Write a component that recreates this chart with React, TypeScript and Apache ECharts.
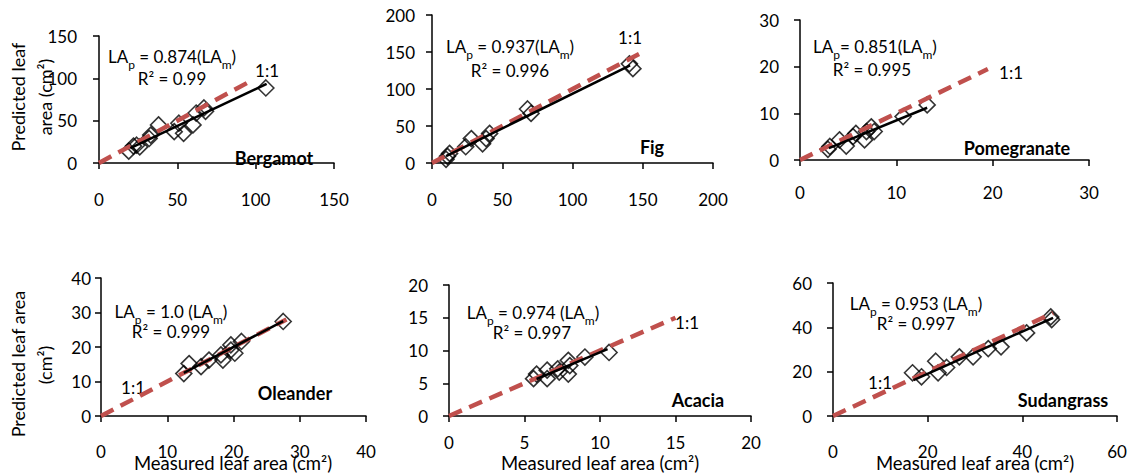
import React, { useEffect, useRef } from "react";
import * as echarts from "echarts";

const FONT = "Lato";

// Measured (x) vs predicted (y) leaf area
const bergamot: [number, number][] = [
  [19, 14], [22, 20], [24, 21], [26, 19], [32, 29], [33, 33], [38, 45], [48, 37],
  [51, 47], [54, 35], [60, 45], [62, 59], [67, 65], [68, 61], [106.5, 88.6],
];
const fig: [number, number][] = [
  [10, 5], [11, 9], [12.5, 13], [24, 22], [28, 33], [36, 26], [38.5, 33], [41, 40],
  [68, 73], [70.5, 67], [140.5, 134], [143, 127.5],
];
const pomegranate: [number, number][] = [
  [2.9, 2.3], [3.1, 2.9], [4.1, 4.3], [4.8, 3], [5.5, 5], [5.8, 5.7], [6.7, 4.3],
  [6.9, 6.1], [7.4, 7.1], [7.7, 6.1], [10.7, 9.3], [13.2, 11.8],
];
const oleander: [number, number][] = [
  [12.5, 12.3], [13.3, 15.2], [15.1, 14.3], [16.3, 16.2], [18.1, 17.7], [18.4, 16.2],
  [19.6, 19.1], [19.6, 20.6], [20.2, 18.2], [21.2, 21.6], [27.5, 27.4],
];
const acacia: [number, number][] = [
  [5.6, 5.7], [5.8, 6.4], [6.5, 7], [6.5, 5.7], [7.2, 7.2], [7.3, 6.7], [7.9, 8.5],
  [7.9, 6.4], [8.0, 7.7], [9.0, 9.0], [10.6, 9.7],
];
const sudangrass: [number, number][] = [
  [16.8, 19.5], [18.7, 17.7], [21.7, 24.7], [22.2, 19.5], [24, 21.9], [26.7, 26.7],
  [29.6, 26.7], [32.8, 30.4], [35.5, 31.2], [40.9, 37.5], [46, 44.7], [46.2, 43.5],
];

// Fitted trend lines (end points)
const bergamotTrend: [number, number][] = [[20, 17.5], [107, 93.5]];
const figTrend: [number, number][] = [[10, 9.4], [141, 132]];
const pomegranateTrend: [number, number][] = [[3, 2.55], [13.2, 11.2]];
const oleanderTrend: [number, number][] = [[12.5, 12.5], [27.5, 27.5]];
const acaciaTrend: [number, number][] = [[5.8, 5.65], [10.5, 10.2]];
const sudangrassTrend: [number, number][] = [[17, 16.2], [46.5, 44.3]];

// 1:1 reference lines
const bergamotOne: [number, number][] = [[0, 0], [95, 95]];
const figOne: [number, number][] = [[0, 0], [150, 150]];
const pomegranateOne: [number, number][] = [[0, 0], [19.5, 19.5]];
const oleanderOne: [number, number][] = [[0, 0], [28, 28]];
const acaciaOne: [number, number][] = [[0, 0], [15, 15]];
const sudangrassOne: [number, number][] = [[0, 0], [46.5, 46.5]];

// Axis ranges
const axisMax = [150, 200, 30, 40, 20, 60];
const axisInterval = [50, 50, 10, 10, 5, 20];

// Annotations
const names = ["Bergamot", "Fig", "Pomegranate", "Oleander", "Acacia", "Sudangrass"];
const slopeTexts = ["0.874(", "0.937(", "0.851(", "1.0 (", "0.974 (", "0.953 ("];
const r2Texts = ["R² = 0.99", "R² = 0.996", "R² = 0.995", "R² = 0.999", "R² = 0.997", "R² = 0.997"];
const eqSpace = [" = ", " = ", "= ", " = ", " = ", " = "];

const pointSets = [bergamot, fig, pomegranate, oleander, acacia, sudangrass];
const trendSets = [bergamotTrend, figTrend, pomegranateTrend, oleanderTrend, acaciaTrend, sudangrassTrend];
const oneSets = [bergamotOne, figOne, pomegranateOne, oleanderOne, acaciaOne, sudangrassOne];

// Layout (pixels)
const grids = [
  { left: 99, top: 36, width: 235, height: 127 },
  { left: 432, top: 15, width: 281, height: 148 },
  { left: 800, top: 20, width: 289, height: 140 },
  { left: 101, top: 278, width: 265, height: 138 },
  { left: 449, top: 285, width: 302, height: 131 },
  { left: 833, top: 283, width: 284, height: 133 },
];
const xLabelMargin = [28, 28, 24, 27, 18, 27];
const yLabelMargin = [22, 17, 21, 10, 21, 21];
const eqPos = [[172, 55], [510, 45], [875, 45], [171, 310], [533, 311], [916, 302]];
const r2Pos = [[172, 78], [510, 70], [872, 69], [171, 331], [532, 332], [916, 323]];
const onePos = [[267, 70], [630, 37], [1011, 72], [133, 387], [687, 322], [880, 382]];
const namePos = [[274, 158], [652, 147], [1017, 148], [295, 393], [698, 400], [1063, 400]];

export default function App() {
  const ref = useRef<HTMLDivElement>(null);
  useEffect(() => {
    if (!ref.current) return;
    const chart = echarts.init(ref.current, null, { renderer: "svg" });
    const black = "#000";
    const xAxis = grids.map((_, i) => ({
      gridIndex: i,
      type: "value",
      min: 0,
      max: axisMax[i],
      interval: axisInterval[i],
      axisLine: { show: true, onZero: false, lineStyle: { color: black, width: 1.5 } },
      axisTick: { show: true, length: 6, lineStyle: { color: black, width: 1.5 } },
      axisLabel: { margin: xLabelMargin[i], color: black, fontSize: 17, fontFamily: FONT },
      splitLine: { show: false },
    }));
    const yAxis = grids.map((_, i) => ({
      gridIndex: i,
      type: "value",
      min: 0,
      max: axisMax[i],
      interval: axisInterval[i],
      axisLine: { show: true, onZero: false, lineStyle: { color: black, width: 1.5 } },
      axisTick: { show: true, length: 6, lineStyle: { color: black, width: 1.5 } },
      axisLabel: { margin: yLabelMargin[i], color: black, fontSize: 17, fontFamily: FONT },
      splitLine: { show: false },
    }));
    const series: any[] = [];
    grids.forEach((_, i) => {
      series.push({
        type: "scatter",
        xAxisIndex: i,
        yAxisIndex: i,
        data: pointSets[i],
        symbol: "diamond",
        symbolSize: 16,
        itemStyle: { color: "rgba(255,255,255,0)", borderColor: black, borderWidth: 1.6 },
        z: 2,
      });
      series.push({
        type: "line",
        xAxisIndex: i,
        yAxisIndex: i,
        data: oneSets[i],
        symbol: "none",
        lineStyle: { color: "#C0504D", width: 4.5, type: [14, 8] },
        z: 3,
      });
      series.push({
        type: "line",
        xAxisIndex: i,
        yAxisIndex: i,
        data: trendSets[i],
        symbol: "none",
        lineStyle: { color: black, width: 2.5 },
        z: 4,
      });
    });

    const baseText = { fill: black, fontFamily: FONT, fontSize: 17, align: "center", verticalAlign: "middle" };
    const graphic: any[] = [];
    grids.forEach((_, i) => {
      graphic.push({
        type: "text",
        x: eqPos[i][0],
        y: eqPos[i][1],
        style: {
          ...baseText,
          text: `{n|LA}{s|p}{n|${eqSpace[i]}${slopeTexts[i]}LA}{s|m}{n|)}`,
          rich: {
            n: { fontFamily: FONT, fontSize: 17, fill: black, lineHeight: 20, verticalAlign: "bottom" },
            s: { fontFamily: FONT, fontSize: 12, fill: black, lineHeight: 14, verticalAlign: "bottom", padding: [0, 0, -5, 0] },
          },
        },
      });
      graphic.push({ type: "text", x: r2Pos[i][0], y: r2Pos[i][1], style: { ...baseText, text: r2Texts[i] } });
      graphic.push({ type: "text", x: onePos[i][0], y: onePos[i][1], style: { ...baseText, text: "1:1" } });
      graphic.push({
        type: "text",
        x: namePos[i][0],
        y: namePos[i][1],
        style: { ...baseText, text: names[i], fontWeight: "bold", fontSize: 18 },
      });
    });
    [233, 600, 975].forEach((x) => {
      graphic.push({ type: "text", x, y: 463, style: { ...baseText, text: "Measured leaf area (cm²)", fontSize: 18.5 } });
    });
    const yTitles = [
      ["Predicted leaf", 18, 97],
      ["area (cm²)", 45, 97],
      ["Predicted leaf area", 18, 364],
      ["(cm²)", 45, 365],
    ];
    yTitles.forEach(([t, x, y]) => {
      graphic.push({
        type: "text",
        x,
        y,
        rotation: Math.PI / 2,
        style: { ...baseText, text: t, fontSize: 18 },
      });
    });

    chart.setOption({
      animation: false,
      backgroundColor: "#fff",
      textStyle: { fontFamily: FONT },
      grid: grids.map((g) => ({ ...g, containLabel: false })),
      xAxis,
      yAxis,
      series,
      graphic,
    });
    return () => chart.dispose();
  }, []);
  return (
    <div
      ref={ref}
      style={{ position: "fixed", left: 0, top: 0, width: 1130, height: 473 }}
    />
  );
}
